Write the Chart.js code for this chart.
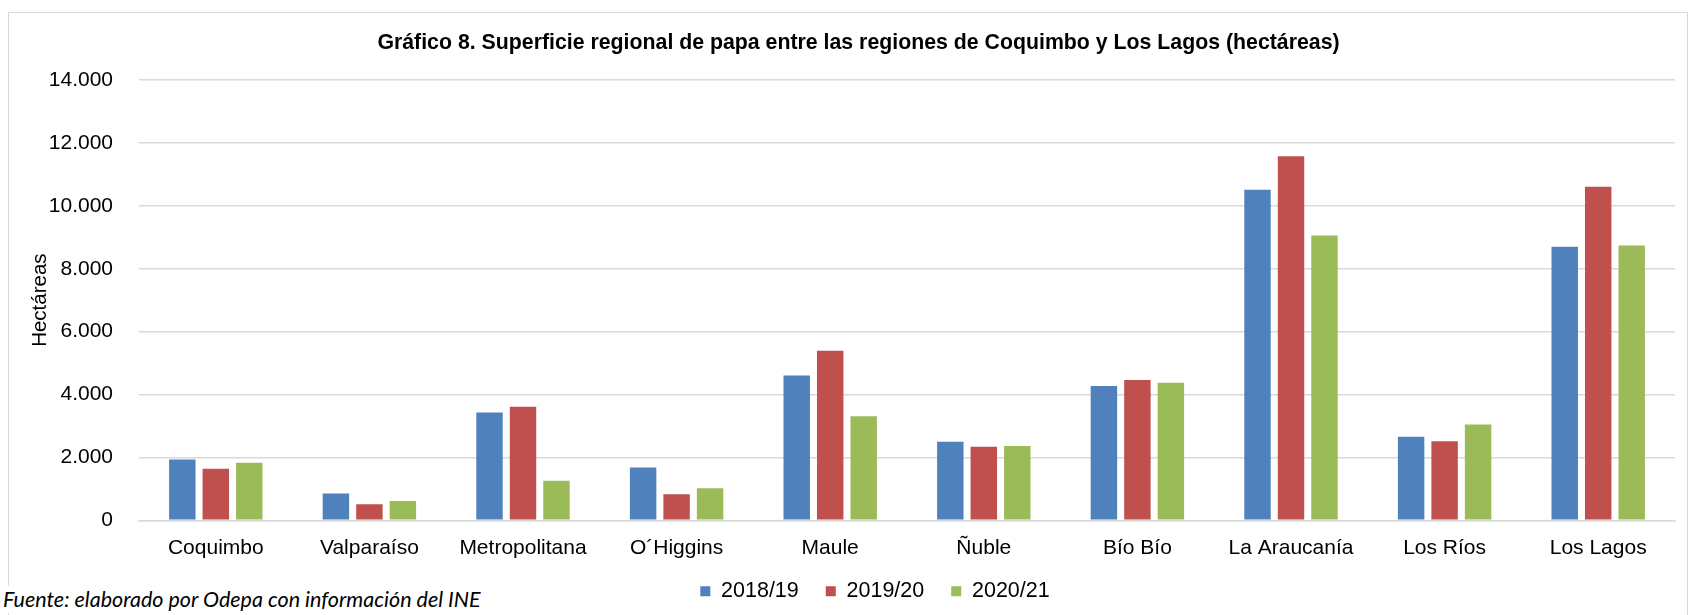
<!DOCTYPE html>
<html>
<head>
<meta charset="utf-8">
<script src="https://cdn.jsdelivr.net/npm/chart.js@4.4.1/dist/chart.umd.min.js"></script>
<style>
  html, body { margin: 0; padding: 0; background: #fff; }
  #wrap { position: relative; width: 1690px; height: 615px; overflow: hidden; }
  #frame { position: absolute; left: 8px; top: 12px; width: 1680px; height: 640px; border: 1px solid #D9D9D9; box-sizing: border-box; }
  canvas { position: absolute; left: 0; top: 0; }
  #src { position: absolute; left: 3px; top: 586px; background: #fff; font-family: Lato, "Open Sans", sans-serif; font-style: italic; font-size: 21.5px; color: #000; padding-right: 4px; line-height: 27px; }
</style>
</head>
<body>
<div id="wrap">
  <div id="frame"></div>
  <canvas id="c" width="1690" height="615"></canvas>
  <div id="src">Fuente: elaborado por Odepa con información del INE</div>
</div>
<script>
const categories = ["Coquimbo", "Valparaíso", "Metropolitana", "O´Higgins", "Maule", "Ñuble", "Bío Bío", "La Araucanía", "Los Ríos", "Los Lagos"];
const seriesNames = ["2018/19", "2019/20", "2020/21"];
const values2018_19 = [1930, 850, 3430, 1675, 4600, 2495, 4270, 10510, 2655, 8695];
const values2019_20 = [1635, 510, 3610, 830, 5390, 2335, 4460, 11580, 2515, 10605];
const values2020_21 = [1825, 615, 1255, 1020, 3310, 2365, 4375, 9055, 3045, 8735];
const yTicks = [0, 2000, 4000, 6000, 8000, 10000, 12000, 14000];
const titleText = "Gráfico 8. Superficie regional de papa entre las regiones de Coquimbo y Los Lagos (hectáreas)";
const yTitle = "Hectáreas";

const colors = ["#4F81BD", "#C0504D", "#9BBB59"];
const seriesValues = [values2018_19, values2019_20, values2020_21];

function fmt(v) {
  return String(v).replace(/\B(?=(\d{3})+(?!\d))/g, ".");
}

const FONT = "'Liberation Sans', Arial, sans-serif";
Chart.defaults.font.family = FONT;
Chart.defaults.color = "#000";

const layoutTweaks = {
  id: "layoutTweaks",
  afterLayout(chart) {
    if (chart.legend) { chart.legend.left += 37.5; chart.legend.right += 37.5; }
    if (chart.titleBlock) { chart.titleBlock.left += 21; chart.titleBlock.right += 21; }
    const x = chart.scales.x;
    if (x) { x.bottom = x.top + 50; }
  }
};

new Chart(document.getElementById("c"), {
  type: "bar",
  data: {
    labels: categories,
    datasets: seriesNames.map((n, i) => ({
      label: n,
      data: seriesValues[i],
      backgroundColor: colors[i],
      borderWidth: 0,
      categoryPercentage: 0.654,
      barPercentage: 0.79
    }))
  },
  plugins: [layoutTweaks],
  options: {
    responsive: false,
    animation: false,
    devicePixelRatio: 1,
    layout: { padding: { left: 0, right: 15, top: 0, bottom: 3 } },
    plugins: {
      title: {
        display: true,
        text: titleText,
        font: { size: 21.3, weight: "bold", family: FONT },
        color: "#000",
        padding: { top: 30.2, bottom: 24.3 }
      },
      legend: {
        position: "bottom",
        labels: {
          boxWidth: 10,
          boxHeight: 10,
          padding: 27,
          font: { size: 21.5, family: FONT },
          color: "#000"
        }
      },
      tooltip: { enabled: false }
    },
    scales: {
      x: {
        grid: { display: false, drawTicks: false },
        border: { display: true, color: "#D9D9D9", width: 1.5 },
        ticks: { padding: 15, font: { size: 21, family: FONT }, color: "#000", maxRotation: 0, autoSkip: false },
        afterFit: s => { s.height = 33.25; }
      },
      y: {
        min: 0,
        max: 14000,
        afterBuildTicks: s => { s.ticks = yTicks.map(v => ({ value: v })); },
        grid: { color: "#D9D9D9", lineWidth: 1.5, drawTicks: false },
        border: { display: false },
        ticks: { padding: 26, font: { size: 21, family: FONT }, color: "#000", callback: v => fmt(v) },
        title: { display: true, text: yTitle, font: { size: 20.5, family: FONT }, color: "#000", padding: { top: 28, bottom: 0 } },
        afterFit: s => { s.width = 139; }
      }
    }
  }
});
</script>
</body>
</html>
